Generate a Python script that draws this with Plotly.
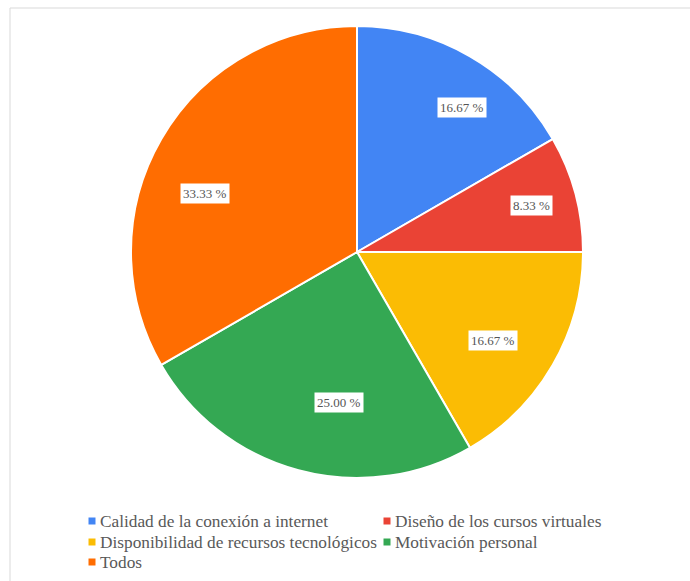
import math
import plotly.graph_objects as go

# Data
categorias = [
    "Calidad de la conexión a internet",
    "Diseño de los cursos virtuales",
    "Disponibilidad de recursos tecnológicos",
    "Motivación personal",
    "Todos",
]
porcentajes = [16.67, 8.33, 16.67, 25.00, 33.33]
colores = ["#4285F4", "#EA4335", "#FBBC04", "#34A853", "#FF6D01"]

# Canvas geometry (pixels)
W, H = 690, 581
CX, CY, R = 357, 252, 226
FONT = "Liberation Serif"
TEXT_COLOR = "#595959"

def px_to_paper(x, y):
    return x / W, 1 - y / H

fig = go.Figure(
    go.Pie(
        labels=categorias,
        values=porcentajes,
        marker=dict(colors=colores, line=dict(color="white", width=2)),
        sort=False,
        direction="clockwise",
        rotation=0,
        textinfo="none",
        hoverinfo="label+percent",
        showlegend=False,
        domain=dict(
            x=[(CX - R) / W, (CX + R) / W],
            y=[1 - (CY + R) / H, 1 - (CY - R) / H],
        ),
    )
)

# Boxed value labels placed around the middle angle of each slice
label_radius = [0.79, 0.80, 0.72, 0.67, 0.72]
label_shift_deg = [6, 0, 3, -8, -9]
annotations = []
total = sum(porcentajes)
acum = 0.0
for v, f, d in zip(porcentajes, label_radius, label_shift_deg):
    mid = (acum + v / 2) / total * 2 * math.pi + math.radians(d)
    acum += v
    x = CX + f * R * math.sin(mid)
    y = CY - f * R * math.cos(mid)
    px, py = px_to_paper(x, y)
    annotations.append(dict(
        x=px, y=py, xref="paper", yref="paper",
        text=f"{v:.2f} %", showarrow=False,
        xanchor="center", yanchor="middle",
        font=dict(family=FONT, size=13, color="#555555"),
        bgcolor="white", borderpad=2,
    ))

# Legend drawn as colored squares plus text, two columns
shapes = []
col_marker_x = [92, 387]
row_y = [521, 542, 562]
for i, (cat, col) in enumerate(zip(categorias, colores)):
    r, c = divmod(i, 2)
    mx, my = col_marker_x[c], row_y[r]
    x0, y1 = px_to_paper(mx - 3.5, my - 3.5)
    x1, y0 = px_to_paper(mx + 3.5, my + 3.5)
    shapes.append(dict(type="rect", xref="paper", yref="paper",
                       x0=x0, x1=x1, y0=y0, y1=y1,
                       fillcolor=col, line=dict(width=0)))
    tx, ty = px_to_paper(mx + 6, my)
    annotations.append(dict(
        x=tx, y=ty, xref="paper", yref="paper", text=cat,
        showarrow=False, xanchor="left", yanchor="middle",
        font=dict(family=FONT, size=17.3, color=TEXT_COLOR),
    ))

# Light frame around the chart area
fx0, fy1 = px_to_paper(10, 8)
shapes.append(dict(type="rect", xref="paper", yref="paper",
                   x0=fx0, x1=1.05, y0=-0.05, y1=fy1,
                   line=dict(color="#d9d9d9", width=1),
                   fillcolor="rgba(0,0,0,0)", layer="below"))

fig.update_layout(
    width=W, height=H,
    margin=dict(l=0, r=0, t=0, b=0),
    paper_bgcolor="white",
    plot_bgcolor="white",
    annotations=annotations,
    shapes=shapes,
)

fig.write_html("out.html")
